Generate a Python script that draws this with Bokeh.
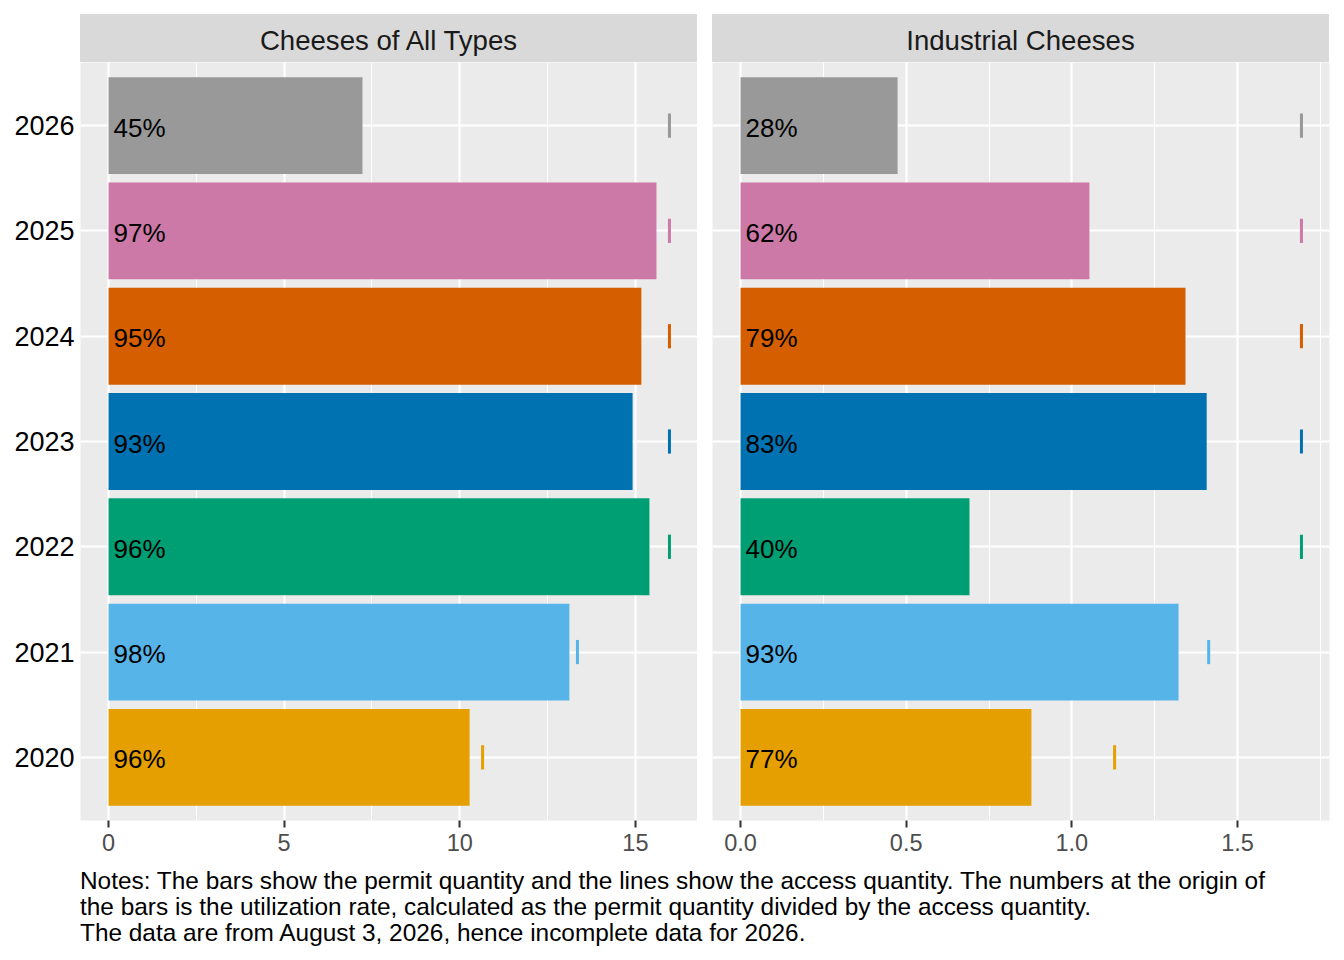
from bokeh.core.properties import value
from bokeh.embed import file_html
from bokeh.layouts import column, row
from bokeh.models import ColumnDataSource, Div, FixedTicker, NumeralTickFormatter, BasicTickFormatter, Range1d
from bokeh.plotting import figure
from bokeh.resources import INLINE

# Daten (von unten nach oben)
years = [2020, 2021, 2022, 2023, 2024, 2025, 2026]
colors = ["#E69F00", "#56B4E9", "#009E73", "#0072B2", "#D55E00", "#CC79A7", "#999999"]

# Cheeses of All Types
permit_all = [10.28, 13.12, 15.40, 14.92, 15.17, 15.60, 7.23]
access_all = [10.65, 13.35, 15.97, 15.97, 15.97, 15.97, 15.97]
rate_all = ["96%", "98%", "96%", "93%", "95%", "97%", "45%"]

# Industrial Cheeses
permit_ind = [0.878, 1.322, 0.691, 1.407, 1.343, 1.053, 0.474]
access_ind = [1.129, 1.413, 1.693, 1.693, 1.693, 1.693, 1.693]
rate_ind = ["77%", "93%", "40%", "83%", "79%", "62%", "28%"]

titles = ["Cheeses of All Types", "Industrial Cheeses"]
ticks_all = [0, 5, 10, 15]
minor_all = [2.5, 7.5, 12.5]
ticks_ind = [0, 0.5, 1.0, 1.5]
minor_ind = [0.25, 0.75, 1.25, 1.75]

notes_lines = [
    "Notes: The bars show the permit quantity and the lines show the access quantity. The numbers at the origin of",
    "the bars is the utilization rate, calculated as the permit quantity divided by the access quantity.",
    "The data are from August 3, 2026, hence incomplete data for 2026.",
]

FONT = "Liberation Sans"


def make_panel(permit, access, rates, ticks, minor, show_y):
    """ein Facetten-Panel im ggplot-Stil"""
    m = max(access)
    src = ColumnDataSource(dict(year=years, permit=permit, access=access, rate=rates, color=colors,
                                lo=[y - 0.115 for y in years], hi=[y + 0.115 for y in years]))
    p = figure(frame_width=617, frame_height=758,
               x_range=Range1d(-0.05 * m, 1.05 * m), y_range=Range1d(2019.4, 2026.6),
               y_axis_location="left" if show_y else None,
               output_backend="svg", toolbar_location=None,
               min_border_left=80 if show_y else 15, min_border_right=0 if show_y else 7,
               min_border_top=0, min_border_bottom=48)
    p.background_fill_color = "#EBEBEB"
    p.border_fill_color = "white"
    p.outline_line_color = None

    p.hbar(y="year", height=0.92, left=0, right="permit", fill_color="color", line_color=None, source=src)
    p.segment(x0="access", y0="lo", x1="access", y1="hi", line_color="color", line_width=3, source=src)
    p.text(x=0, y="year", text="rate", x_offset=5, y_offset=2, text_align="left", text_baseline="middle",
           text_font=value(FONT), text_font_size="26px", text_color="black", source=src)

    # Gitter
    p.xgrid.ticker = FixedTicker(ticks=ticks, minor_ticks=minor)
    p.ygrid.ticker = FixedTicker(ticks=years)
    for g in (p.xgrid, p.ygrid):
        g.grid_line_color = "white"
        g.grid_line_width = 2.2
    p.xgrid.minor_grid_line_color = "white"
    p.xgrid.minor_grid_line_width = 1.1

    # x-Achse
    p.xaxis.ticker = FixedTicker(ticks=ticks, minor_ticks=minor)
    if not show_y:
        p.xaxis.formatter = NumeralTickFormatter(format="0.0")
    p.xaxis.axis_line_color = None
    p.xaxis.major_tick_line_color = "#333333"
    p.xaxis.major_tick_line_width = 2
    p.xaxis.major_tick_out = 7
    p.xaxis.major_tick_in = 0
    p.xaxis.minor_tick_line_color = None
    p.xaxis.major_label_text_font = FONT
    p.xaxis.major_label_text_font_size = "23.5px"
    p.xaxis.major_label_text_color = "#4D4D4D"
    p.xaxis.major_label_standoff = 6

    if show_y:
        p.yaxis.ticker = FixedTicker(ticks=years)
        p.yaxis.formatter = BasicTickFormatter(use_scientific=False)
        p.yaxis.axis_line_color = None
        p.yaxis.major_tick_line_color = None
        p.yaxis.major_tick_out = 0
        p.yaxis.major_tick_in = 0
        p.yaxis.minor_tick_line_color = None
        p.yaxis.major_label_text_font = FONT
        p.yaxis.major_label_text_font_size = "27px"
        p.yaxis.major_label_text_color = "black"
        p.yaxis.major_label_standoff = 6
    return p


def make_strip(title, left):
    return Div(text=title, width=617, height=48, margin=(14, 0, 0, left),
               styles={"background-color": "#D9D9D9", "text-align": "center", "line-height": "54px",
                       "font-family": FONT, "font-size": "27.6px", "color": "#1A1A1A",
                       "overflow": "hidden"})


p1 = make_panel(permit_all, access_all, rate_all, ticks_all, minor_all, True)
p2 = make_panel(permit_ind, access_ind, rate_ind, ticks_ind, minor_ind, False)

notes = Div(text="<br>".join(notes_lines), width=1250, margin=(0, 0, 0, 80),
            styles={"font-family": FONT, "font-size": "24.4px", "line-height": "26px", "color": "black"})

layout = column(row(column(make_strip(titles[0], 80), p1), column(make_strip(titles[1], 15), p2)), notes)

open("out.html", "w").write(file_html(layout, INLINE))
